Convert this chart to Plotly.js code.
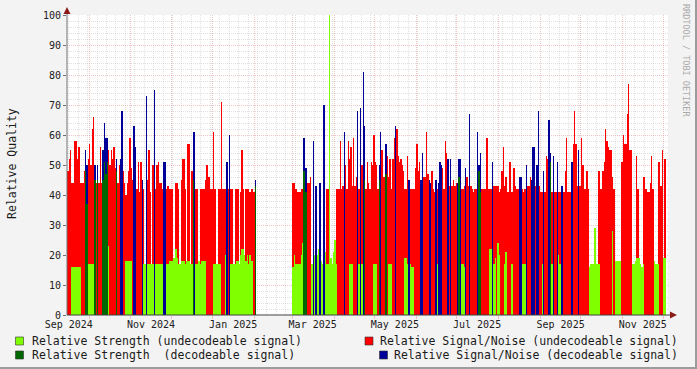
<!DOCTYPE html>
<html><head><meta charset="utf-8">
<script src="https://cdn.plot.ly/plotly-3.0.1.min.js"></script>
<style>html,body{margin:0;padding:0;background:#F3F3F3;}#chart{width:697px;height:369px;}</style>
</head><body><div id="chart"></div>
<script>
// one value per day, starting at startDate
const startDate = '2024-09-15';
const undecSNR = [
48,52,55,44,44,58,58,52,56,44,
44,44,48,null,null,52,57,50,62,66,
null,44,null,44,56,44,null,null,null,null,
55,50,55,52,56,49,null,44,50,null,
null,48,44,40,44,48,59,49,45,null,
null,42,51,41,51,null,42,null,null,45,
55,41,null,50,null,42,50,51,44,44,
42,null,null,42,43,42,42,42,null,null,
44,44,42,null,45,52,52,42,null,57,
57,null,48,null,null,42,42,null,42,42,
42,42,45,50,46,46,42,42,61,42,
null,null,42,42,71,42,42,42,null,42,
null,42,42,null,42,42,42,null,41,55,
42,null,42,42,42,41,42,42,41,null,
null,null,null,null,null,null,null,null,null,null,
null,null,null,null,null,null,null,null,null,null,
null,null,null,null,null,null,null,44,44,42,
41,41,41,42,42,null,null,null,44,44,
46,null,null,null,null,null,null,null,null,null,
null,null,42,42,null,null,null,null,null,42,
42,42,58,42,43,null,50,42,58,52,
56,43,59,43,46,null,42,null,50,null,
null,42,51,44,42,51,50,60,51,50,
42,null,null,55,46,46,null,53,46,52,
42,52,59,null,62,53,51,52,50,48,
42,42,53,null,42,42,42,42,49,57,
48,51,null,null,46,46,61,47,null,null,
48,42,41,null,42,null,null,null,49,42,
58,54,null,43,null,43,45,43,44,null,
null,null,42,42,43,null,46,43,null,43,
42,41,42,42,null,null,null,42,42,42,
42,59,42,42,42,null,43,43,43,43,
41,42,48,56,43,46,41,41,51,41,
41,49,43,42,42,null,null,42,41,42,
null,43,43,46,null,null,null,43,null,null,
43,41,41,null,41,53,52,null,null,41,
null,41,41,null,41,41,null,null,41,48,
59,41,41,41,null,57,68,57,43,null,
43,59,50,42,42,48,42,null,null,null,
null,null,null,null,48,42,42,48,51,62,
58,56,55,55,46,42,null,null,null,null,
null,51,60,57,57,67,77,55,55,null,
null,null,53,42,null,null,null,46,46,42,
41,41,44,53,42,null,null,null,51,51,
43,55,null,52];
const undecStrength = [
null,null,null,16,16,16,16,16,16,16,
null,null,null,null,null,17,17,17,17,17,
null,null,null,null,null,null,null,null,null,null,
23,null,null,null,null,null,null,null,null,null,
null,null,null,18,18,18,18,18,null,null,
null,null,null,null,null,null,17,17,null,17,
17,17,17,17,null,17,17,17,17,17,
17,null,null,17,17,18,18,18,19,19,
22,19,17,17,18,18,18,17,18,18,
18,17,17,null,null,17,17,18,17,18,
18,18,18,null,null,null,null,null,17,17,
17,17,17,17,null,null,null,20,null,null,
null,17,17,17,17,18,18,17,20,22,
22,20,18,20,17,20,18,18,null,null,
null,null,null,null,null,null,null,null,null,null,
null,null,null,null,null,null,null,null,null,null,
null,null,null,null,null,null,null,16,20,17,
17,17,17,20,24,null,null,null,null,null,
null,17,null,20,null,20,22,null,18,17,
null,21,17,17,100,19,17,21,25,17,
null,null,null,null,null,null,null,null,null,17,
17,17,null,null,null,null,17,null,17,null,
null,null,null,null,null,null,null,17,17,17,
null,null,null,null,null,null,null,null,17,17,
17,null,null,null,null,null,null,null,null,null,
19,19,17,null,17,16,16,null,null,null,
null,null,null,null,null,null,null,null,null,null,
null,null,null,null,17,null,null,null,null,null,
null,null,null,null,null,null,null,null,null,null,
null,null,17,17,16,null,null,null,null,null,
null,null,null,null,null,null,null,null,null,null,
null,null,null,22,22,null,17,19,null,24,
20,null,null,null,17,21,null,null,null,17,
17,null,null,null,null,null,null,17,17,17,
null,null,null,null,null,null,null,null,null,null,
null,null,17,null,null,null,null,null,null,17,
null,null,null,null,20,17,null,null,null,null,
null,null,null,null,null,null,null,null,null,null,
null,null,null,null,null,null,null,16,17,17,
17,29,17,17,17,null,null,null,null,null,
null,null,null,null,28,null,18,18,18,18,
18,null,null,null,null,null,null,null,null,17,
17,18,19,19,19,17,16,17,null,null,
null,null,null,null,null,18,17,17,17,null,
null,null,19,19];
const decSNR = [
null,null,null,null,null,null,null,null,null,null,
null,null,null,55,50,null,null,null,null,null,
50,null,50,null,null,null,55,64,59,59,
null,null,null,null,null,null,52,null,null,52,
68,null,null,null,null,null,null,null,null,63,
56,null,null,null,null,45,null,null,73,null,
null,null,null,null,75,null,null,null,null,null,
null,51,51,null,null,null,null,null,null,null,
null,null,null,null,null,null,null,null,null,null,
null,null,null,61,61,null,null,null,null,null,
null,null,null,null,null,null,null,null,null,null,
null,null,null,null,null,null,null,null,51,null,
60,null,null,null,null,null,null,null,null,null,
null,null,null,null,null,null,null,null,null,45,
null,null,null,null,null,null,null,null,null,null,
null,null,null,null,null,null,null,null,null,null,
null,null,null,null,null,null,null,null,null,null,
null,null,null,null,null,59,49,49,null,null,
null,null,58,null,43,null,null,44,null,null,
70,null,null,null,null,null,null,null,null,null,
null,null,null,null,null,61,null,null,null,null,
null,null,null,null,null,68,null,69,null,81,
63,null,null,null,null,null,null,null,null,null,
null,50,61,null,null,null,57,null,null,null,
null,null,null,63,null,null,null,null,null,null,
null,null,null,45,null,null,null,null,null,null,
null,null,45,54,null,null,null,null,45,44,
null,null,null,45,null,44,51,50,null,null,
null,null,52,null,52,null,null,null,null,44,
52,52,null,null,null,49,null,null,67,null,
null,null,null,null,61,50,54,null,null,null,
null,null,null,null,null,51,null,null,null,null,
null,null,null,null,null,null,null,null,null,null,
null,null,null,null,null,46,46,null,null,null,
50,null,null,null,45,56,56,null,50,68,
null,null,null,48,null,null,null,65,54,null,
53,null,null,51,null,null,43,43,null,null,
null,null,null,null,51,null,null,null,null,55,
null,null,null,null,null,null,null,null,null,null,
null,null,null,null,null,null,null,null,null,null,
null,null,null,null,null,null,null,null,null,null,
null,null,null,null,null,null,null,null,null,null,
null,null,null,null,null,null,null,null,null,null,
null,null,null,null,null,null,null,null,null,null,
null,null,null,null];
const decStrength = [
null,null,null,null,null,null,null,null,null,null,
null,null,null,48,37,null,null,null,null,null,
45,null,45,null,null,null,45,51,47,51,
null,null,null,null,null,null,48,null,null,null,
null,null,null,null,null,null,null,null,null,null,
null,null,null,null,null,null,null,null,null,null,
null,null,null,null,null,null,null,null,null,null,
null,null,null,null,null,null,null,null,null,null,
null,null,null,null,null,null,null,null,null,null,
null,null,null,45,null,null,null,null,null,null,
null,null,null,null,null,null,null,null,null,null,
null,null,null,null,null,null,null,null,null,null,
null,null,null,null,null,null,null,null,null,null,
null,null,null,null,null,null,null,null,null,43,
null,null,null,null,null,null,null,null,null,null,
null,null,null,null,null,null,null,null,null,null,
null,null,null,null,null,null,null,null,null,null,
null,null,null,null,null,48,41,41,null,null,
null,null,null,null,null,null,null,null,null,null,
null,null,null,null,null,null,null,null,null,null,
null,null,null,null,null,null,null,null,null,null,
null,null,null,null,null,null,null,null,null,null,
45,null,null,null,null,null,null,null,null,null,
null,45,null,null,null,null,47,null,null,null,
null,null,null,null,null,null,null,null,null,null,
null,null,null,null,null,null,null,null,null,null,
null,null,null,null,null,null,null,null,null,null,
null,null,null,null,null,null,null,null,null,null,
null,null,null,null,null,null,null,null,null,null,
46,null,null,null,null,null,null,null,null,null,
null,null,null,null,null,48,41,null,null,null,
null,null,null,null,null,null,null,null,null,null,
null,null,null,null,null,null,null,null,null,null,
null,null,null,null,null,null,null,null,null,null,
null,null,null,null,null,null,null,null,null,null,
null,null,null,null,null,null,null,null,51,null,
null,null,null,null,null,null,null,null,null,null,
null,null,null,null,null,null,null,null,null,null,
null,null,null,null,null,null,null,null,null,null,
null,null,null,null,null,null,null,null,null,null,
null,null,null,null,null,null,null,null,null,null,
null,null,null,null,null,null,null,null,null,null,
null,null,null,null,null,null,null,null,null,null,
null,null,null,null,null,null,null,null,null,null,
null,null,null,null];
const tickLabels = ['Sep 2024','Nov 2024','Jan 2025','Mar 2025','May 2025','Jul 2025','Sep 2025','Nov 2025'];
const tickDates = ['2024-09-16','2024-11-16','2025-01-16','2025-03-16','2025-05-16','2025-07-16','2025-09-16','2025-11-16'];
const legendLabels = ['Relative Strength (undecodeable signal)','Relative Signal/Noise (undecodeable signal)','Relative Strength  (decodeable signal)','Relative Signal/Noise (decodeable signal)'];
const colors = {lg:'#80FF00', red:'#FF0000', dg:'#006600', blue:'#000099'};

const t0 = Date.parse(startDate + 'T12:00:00Z');
function dates(n){const o=[];for(let i=0;i<n;i++){o.push(new Date(t0+i*86400000).toISOString().slice(0,19).replace('T',' '));}return o;}
function bars(y,color){return {type:'bar',x:dates(y.length),y:y,width:86400000,marker:{color:color,line:{width:0}},hoverinfo:'skip',showlegend:false,xaxis:'x',yaxis:'y'};}
const traces=[bars(undecSNR,colors.red),bars(decSNR,colors.blue),bars(undecStrength,colors.lg),bars(decStrength,colors.dg),
 {type:'scatter',x:[],y:[],xaxis:'x2',yaxis:'y',showlegend:false,hoverinfo:'skip'}];

const L=67,R=668,T=15,B=315,W=R-L,H=B-T;
const px=v=>(v-L)/W, py=v=>(B-v)/H;
const range=['2024-09-14 16:00','2025-12-04 17:00'];
const mg='rgba(228,150,150,0.55)', ng='rgba(175,175,175,0.38)';
const shapes=[
 {type:'line',xref:'paper',yref:'paper',x0:px(L),x1:px(L),y0:py(B),y1:py(10),line:{color:'#707070',width:1}},
 {type:'line',xref:'paper',yref:'paper',x0:px(L),x1:px(672),y0:py(B),y1:py(B),line:{color:'#404040',width:1}},
 {type:'path',xref:'paper',yref:'paper',path:`M ${px(L)},${py(7)} L ${px(L-3.5)},${py(14)} L ${px(L+3.5)},${py(14)} Z`,fillcolor:'#8B1A1A',line:{width:0}},
 {type:'path',xref:'paper',yref:'paper',path:`M ${px(677)},${py(B)} L ${px(670)},${py(B-3.5)} L ${px(670)},${py(B+3.5)} Z`,fillcolor:'#8B1A1A',line:{width:0}},
 {type:'line',xref:'paper',yref:'paper',x0:px(0),x1:px(697),y0:py(368),y1:py(368),line:{color:'#9C9C9C',width:2}},
 {type:'line',xref:'paper',yref:'paper',x0:px(696),x1:px(696),y0:py(0),y1:py(369),line:{color:'#9C9C9C',width:2}},
];
const boxes=[[15.5,341,colors.lg],[365,341,colors.red],[15.5,355,colors.dg],[379.5,355,colors.blue]];
boxes.forEach(b=>shapes.push({type:'rect',xref:'paper',yref:'paper',x0:px(b[0]),x1:px(b[0]+8),y0:py(b[1]-4),y1:py(b[1]+4),fillcolor:b[2],line:{color:'#303030',width:0.6}}));
const lf={family:'DejaVu Sans Mono',size:11.5,color:'#1a1a1a'};
const annotations=[
 {xref:'paper',yref:'paper',x:px(12),y:py(164),text:'Relative Quality',textangle:-90,showarrow:false,xanchor:'center',yanchor:'middle',font:lf},
 {xref:'paper',yref:'paper',x:px(686),y:py(60),text:'RRDTOOL / TOBI OETIKER',textangle:90,showarrow:false,xanchor:'center',yanchor:'middle',font:{family:'DejaVu Sans Mono',size:8.5,color:'#aaaaaa'}},
 {xref:'paper',yref:'paper',x:px(30),y:py(341),text:legendLabels[0],showarrow:false,xanchor:'left',yanchor:'middle',font:lf},
 {xref:'paper',yref:'paper',x:px(680),y:py(341),text:legendLabels[1],showarrow:false,xanchor:'right',yanchor:'middle',font:lf},
 {xref:'paper',yref:'paper',x:px(30),y:py(355),text:legendLabels[2],showarrow:false,xanchor:'left',yanchor:'middle',font:lf},
 {xref:'paper',yref:'paper',x:px(680),y:py(355),text:legendLabels[3],showarrow:false,xanchor:'right',yanchor:'middle',font:lf},
];
const layout={width:697,height:369,margin:{l:L,r:697-R,t:T,b:369-B,pad:0},paper_bgcolor:'#F3F3F3',plot_bgcolor:'#FFFFFF',
 barmode:'overlay',bargap:0,hovermode:false,font:{family:'DejaVu Sans Mono',size:10,color:'#202020'},
 xaxis:{type:'date',range:range,tickmode:'linear',tick0:'2024-10-01',dtick:'M1',showticklabels:false,showgrid:true,gridcolor:mg,griddash:'1px,1px',ticks:'outside',ticklen:3,tickcolor:mg,showline:false,zeroline:false,
   minor:{tick0:'2024-09-16',dtick:604800000,showgrid:true,gridcolor:ng,griddash:'1px,1px',ticks:''}},
 xaxis2:{type:'date',range:range,overlaying:'x',anchor:'y',side:'bottom',tickmode:'array',tickvals:tickDates,ticktext:tickLabels,showgrid:false,ticks:'',ticklabelstandoff:2,showline:false,zeroline:false,tickfont:{family:'DejaVu Sans Mono',size:10,color:'#202020'}},
 yaxis:{range:[0,100],tickmode:'linear',tick0:0,dtick:10,showgrid:true,gridcolor:mg,griddash:'1px,1px',ticks:'outside',ticklen:3,tickcolor:'#707070',showline:false,zeroline:false,tickfont:{family:'DejaVu Sans Mono',size:10,color:'#202020'},
   minor:{dtick:2,showgrid:true,gridcolor:ng,griddash:'1px,1px',ticks:''}},
 shapes:shapes,annotations:annotations};
Plotly.newPlot('chart',traces,layout,{staticPlot:true});
</script></body></html>
